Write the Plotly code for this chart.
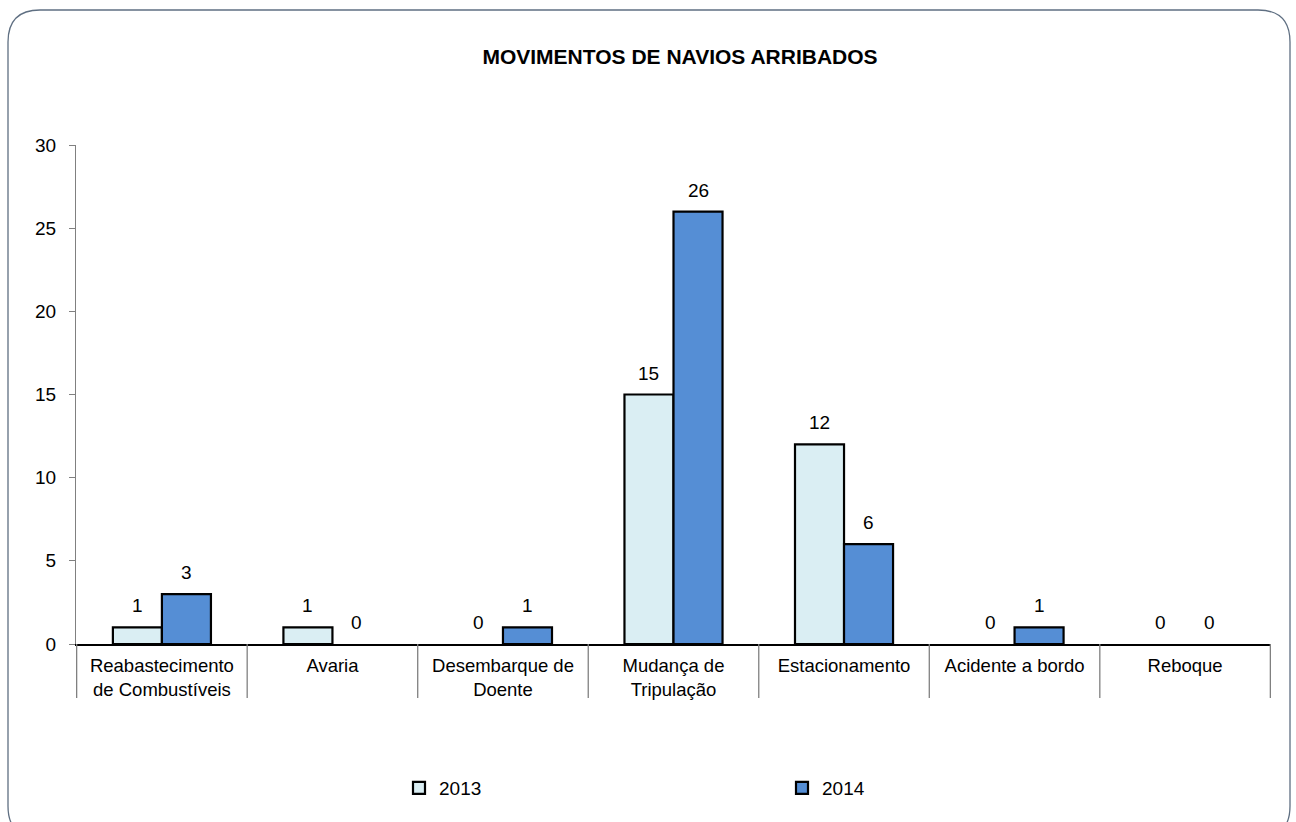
import plotly.graph_objects as go

categories = ["Reabastecimento<br>de Combustíveis", "Avaria", "Desembarque de<br>Doente",
              "Mudança de<br>Tripulação", "Estacionamento", "Acidente a bordo", "Reboque"]
values_2013 = [1, 1, 0, 15, 12, 0, 0]
values_2014 = [3, 0, 1, 26, 6, 1, 0]
y_ticks = [0, 5, 10, 15, 20, 25, 30]

W, H = 1296, 822
ML, MR, MT, MB = 76, 25, 145, 178
PW, PH = W - ML - MR, H - MT - MB
BARGAP = 0.425

def px(x):
    return (x - ML) / PW

def py(y):
    return (H - MB - y) / PH

font = "Liberation Sans, Arial, sans-serif"

fig = go.Figure()
series = [("2013", values_2013, "#DAEEF3"), ("2014", values_2014, "#558ED5")]
for name, vals, color in series:
    fig.add_trace(go.Bar(name=name, x=categories, y=vals,
                         marker=dict(color=color,
                                     line=dict(color="black", width=[2.2 if v else 0 for v in vals]))))

# data labels placed above each bar
bar_w = PW / len(categories) * (1 - BARGAP) / len(series)
annotations = []
for k, (name, vals, color) in enumerate(series):
    shift = (k - (len(series) - 1) / 2) * bar_w
    for cat, v in zip(categories, vals):
        annotations.append(dict(x=cat, y=v, xref="x", yref="y", text=str(v), showarrow=False,
                                xshift=shift, yshift=9, yanchor="bottom",
                                font=dict(size=19, color="black", family=font)))

shapes = []
# category separators below axis
for i in range(len(categories) + 1):
    shapes.append(dict(type="line", xref="x", yref="paper", x0=i - 0.5, x1=i - 0.5,
                       y0=0, y1=-54 / PH, line=dict(color="#808080", width=1.3)))
# rounded border
x0, x1, y0, y1, r = 8, 1290, 10, 838, 32
path = (f"M {px(x0)},{py(y0 + r)} "
        f"Q {px(x0)},{py(y0)} {px(x0 + r)},{py(y0)} "
        f"L {px(x1 - r)},{py(y0)} "
        f"Q {px(x1)},{py(y0)} {px(x1)},{py(y0 + r)} "
        f"L {px(x1)},{py(y1 - r)} "
        f"Q {px(x1)},{py(y1)} {px(x1 - r)},{py(y1)} "
        f"L {px(x0 + r)},{py(y1)} "
        f"Q {px(x0)},{py(y1)} {px(x0)},{py(y1 - r)} Z")
shapes.append(dict(type="path", xref="paper", yref="paper", path=path,
                   line=dict(color="#5f6f82", width=1.3), layer="below"))

fig.update_layout(
    width=W, height=H,
    margin=dict(l=ML, r=MR, t=MT, b=MB),
    paper_bgcolor="white", plot_bgcolor="white",
    font=dict(family=font, size=18, color="black"),
    title=dict(text="<b>MOVIMENTOS DE NAVIOS ARRIBADOS</b>", x=680 / W, xanchor="center",
               y=1 - 57 / H, yanchor="middle", font=dict(size=21, family=font, color="black")),
    barmode="group", bargap=BARGAP, bargroupgap=0,
    showlegend=True,
    legend=dict(orientation="h", x=px(399), xanchor="left", y=py(788), yanchor="middle",
                entrywidth=338, entrywidthmode="pixels", font=dict(size=19),
                itemwidth=30, traceorder="normal"),
    shapes=shapes,
    annotations=annotations,
)
fig.update_xaxes(showline=True, linecolor="black", linewidth=1.5, ticks="", showgrid=False,
                 tickfont=dict(size=18.5), tickangle=0, zeroline=False, ticklabelstandoff=4)
fig.update_yaxes(range=[0, 30], tickvals=y_ticks, showline=True, linecolor="#808080",
                 linewidth=1.3, ticks="outside", ticklen=6, tickcolor="#808080",
                 showgrid=False, zeroline=False, tickfont=dict(size=19), ticklabelstandoff=9)

fig.write_html("out.html", config={"displayModeBar": False},
               post_script="document.body.style.margin='0px';")
